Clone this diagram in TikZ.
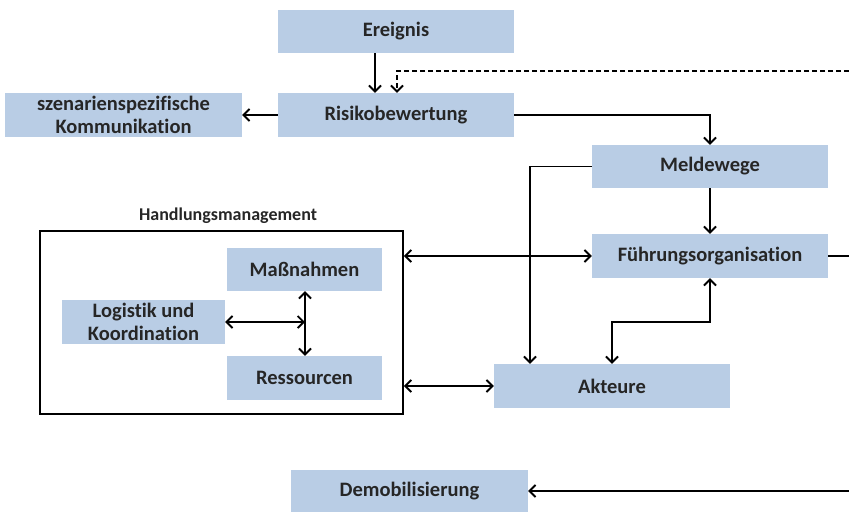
\documentclass[tikz,border=0pt]{standalone}
\usepackage{fontspec}
\setmainfont[Ligatures={NoCommon}]{Carlito}
\usetikzlibrary{arrows.meta}
\begin{document}
\begin{tikzpicture}[x=1pt,y=-1pt,
  box/.style={fill=boxblue, draw=none, inner sep=0pt, font=\fontsize{20.5}{23}\selectfont\bfseries, align=center, text=black!85},
  conn/.style={line width=1.9pt, -{Straight Barb[length=6pt,width=12pt,line width=1.9pt]}},
  dconn/.style={line width=1.9pt, {Straight Barb[length=6pt,width=12pt,line width=1.9pt]}-{Straight Barb[length=6pt,width=12pt,line width=1.9pt]}},
  line/.style={line width=1.9pt}]
\definecolor{boxblue}{HTML}{B9CDE5}
\useasboundingbox (0,0) rectangle (849,512);
% boxes
\node[box, minimum width=236pt, minimum height=43pt] (ereignis) at (396,31.5) {Ereignis};
\node[box, minimum width=236pt, minimum height=44pt] (risiko) at (396,115) {Risikobewertung};
\node[box, minimum width=237pt, minimum height=44pt] (komm) at (123.5,115) {szenarienspezifische\\Kommunikation};
\node[box, minimum width=236pt, minimum height=43pt] (melde) at (710,166.5) {Meldewege};
\node[box, minimum width=236pt, minimum height=44pt] (fuehr) at (710,256) {Führungsorganisation};
\node[draw, line width=1.9pt, minimum width=363pt, minimum height=183pt, inner sep=0pt] (hm) at (221.5,322.5) {};
\node[font=\fontsize{18}{20}\selectfont\bfseries, anchor=south, text=black!85] (hmlabel) at (228,227) {Handlungsmanagement};
\node[box, minimum width=155pt, minimum height=43pt] (mass) at (304.5,269.5) {Maßnahmen};
\node[box, minimum width=163pt, minimum height=44pt] (logistik) at (143.5,322) {Logistik und\\Koordination};
\node[box, minimum width=155pt, minimum height=44pt] (ress) at (304.5,378) {Ressourcen};
\node[box, minimum width=236pt, minimum height=44pt] (akteure) at (612,386) {Akteure};
\node[box, minimum width=237pt, minimum height=42pt] (demob) at (409.5,491) {Demobilisierung};
% free ends at right edge
\coordinate (dashend) at (849,71);
\coordinate (fuehrend) at (849,256);
\coordinate (demobend) at (849,491);
\coordinate (cross) at (305,322);
% connectors
\draw[conn] (ereignis.south -| 375,0) -- (risiko.north -| 375,0);
\draw[conn, line width=1.5pt, dash pattern=on 5pt off 3pt] (dashend) -| (risiko.north -| 397,0);
\draw[conn] (risiko.west) -- (komm.east);
\draw[conn] (risiko.east) -| (melde.north);
\draw[conn] (melde.south) -- (fuehr.north);
\draw[conn] (melde.west) -| (akteure.north -| 530,0);
\draw[dconn] (hm.east |- fuehr.west) -- (fuehr.west);
\draw[dconn] (hm.east |- akteure.west) -- (akteure.west);
\draw[dconn] (akteure.north -| 612,0) -- (612,322) -| (fuehr.south);
\draw[dconn] (logistik.east) -- (cross);
\draw[dconn] (mass.south -| cross) -- (ress.north -| cross);
\draw[line] (fuehr.east) -- (fuehrend);
\draw[conn] (demobend) -- (demob.east);
\end{tikzpicture}
\end{document}
